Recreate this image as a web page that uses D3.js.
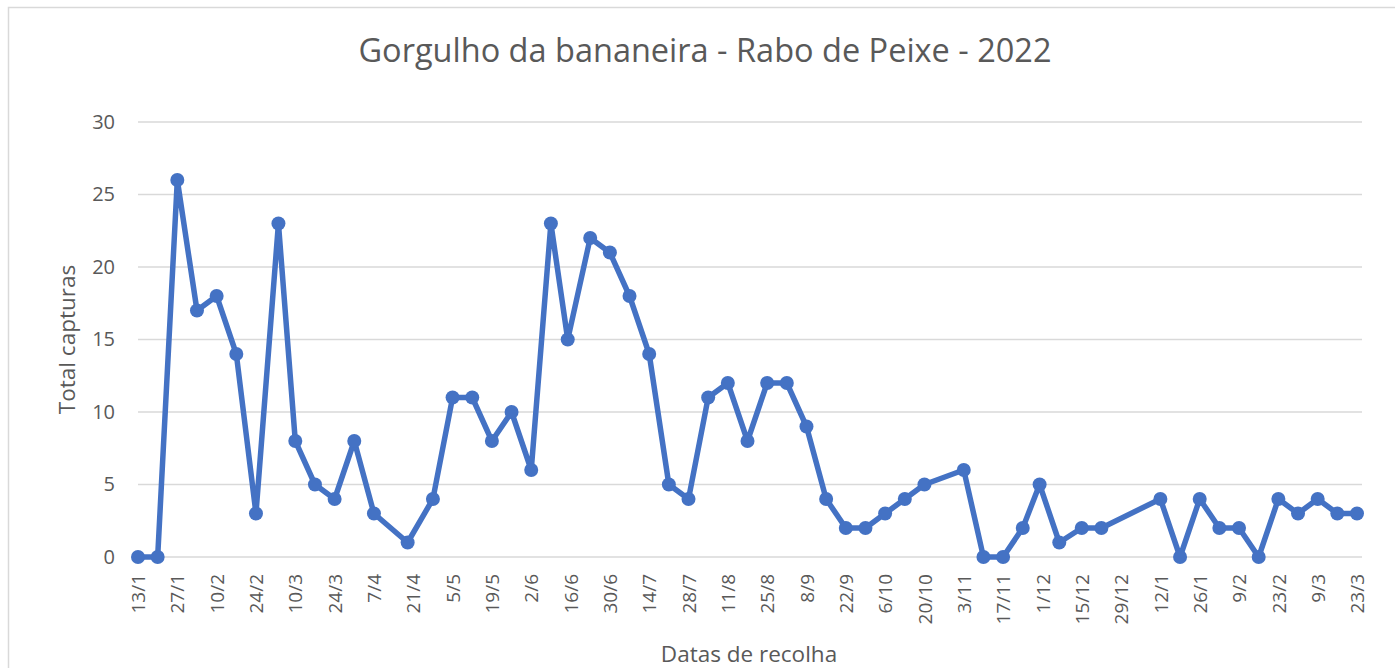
<!DOCTYPE html>
<html>
<head>
<meta charset="utf-8">
<script src="https://cdn.jsdelivr.net/npm/d3@7"></script>
<style>
    body { margin: 0; background: #fff; }
    svg { display: block; }
    text { font-family: "Open Sans", sans-serif; fill: #595959; }
</style>
</head>
<body>
<div id="chart"></div>
<script>
    // Collection dates (d/m, 2022-2023) and total captures
    const dates = [
        "2022-01-13", "2022-01-20", "2022-01-27", "2022-02-03", "2022-02-10", "2022-02-17", "2022-02-24",
        "2022-03-04", "2022-03-10", "2022-03-17", "2022-03-24", "2022-03-31", "2022-04-07", "2022-04-19",
        "2022-04-28", "2022-05-05", "2022-05-12", "2022-05-19", "2022-05-26", "2022-06-02", "2022-06-09",
        "2022-06-15", "2022-06-23", "2022-06-30", "2022-07-07", "2022-07-14", "2022-07-21", "2022-07-28",
        "2022-08-04", "2022-08-11", "2022-08-18", "2022-08-25", "2022-09-01", "2022-09-08", "2022-09-15",
        "2022-09-22", "2022-09-29", "2022-10-06", "2022-10-13", "2022-10-20", "2022-11-03", "2022-11-10",
        "2022-11-17", "2022-11-24", "2022-11-30", "2022-12-07", "2022-12-15", "2022-12-22", "2023-01-12",
        "2023-01-19", "2023-01-26", "2023-02-02", "2023-02-09", "2023-02-16", "2023-02-23", "2023-03-02",
        "2023-03-09", "2023-03-16", "2023-03-23"
    ]
    const capturas = [
        0, 0, 26, 17, 18, 14, 3,
        23, 8, 5, 4, 8, 3, 1,
        4, 11, 11, 8, 10, 6, 23,
        15, 22, 21, 18, 14, 5, 4,
        11, 12, 8, 12, 12, 9, 4,
        2, 2, 3, 4, 5, 6, 0,
        0, 2, 5, 1, 2, 2, 4,
        0, 4, 2, 2, 0, 4, 3,
        4, 3, 3
    ]
    const yTicks = [0, 5, 10, 15, 20, 25, 30]
    const tickStep = 14 // days between axis labels

    const title = "Gorgulho da bananeira - Rabo de Peixe - 2022"
    const yTitle = "Total capturas"
    const xTitle = "Datas de recolha"

    const svgWidth = 1395, svgHeight = 668
    const plot = { left: 138, right: 1357, top: 122, bottom: 557 }

    const parse = d3.utcParse("%Y-%m-%d")
    const data = dates.map((d, i) => ({ date: parse(d), value: capturas[i] }))

    const svg = d3.select("#chart")
        .append("svg")
        .attr("width", svgWidth)
        .attr("height", svgHeight)

    // chart border
    svg.append("rect")
        .attr("x", 8.5)
        .attr("y", 7.5)
        .attr("width", svgWidth + 20)
        .attr("height", svgHeight + 20)
        .attr("fill", "#fff")
        .attr("stroke", "#d9d9d9")
        .attr("stroke-width", 1.5)

    const start = data[0].date, end = data[data.length - 1].date

    const xScale = d3.scaleUtc()
        .domain([start, end])
        .range([plot.left, plot.right])

    const yScale = d3.scaleLinear()
        .domain([0, 30])
        .range([plot.bottom, plot.top])

    // gridlines
    svg.append("g")
        .selectAll("line")
        .data(yTicks)
        .join("line")
        .attr("x1", plot.left)
        .attr("x2", plot.right + 5)
        .attr("y1", d => yScale(d))
        .attr("y2", d => yScale(d))
        .attr("stroke", "#d9d9d9")
        .attr("stroke-width", 1.5)

    // y axis labels
    const yAxis = d3.axisLeft(yScale)
        .tickValues(yTicks)
        .tickSize(0)
        .tickPadding(23)

    svg.append("g")
        .attr("transform", `translate(${plot.left}, 0)`)
        .call(yAxis)
        .call(g => g.select(".domain").remove())
        .call(g => g.selectAll("text")
            .attr("font-size", 20)
            .attr("font-family", null)
            .attr("fill", "#595959"))

    // x axis, date labels every two weeks
    const xTickValues = d3.utcDay.range(start, d3.utcDay.offset(end, 1), tickStep)
    const xAxis = d3.axisBottom(xScale)
        .tickValues(xTickValues)
        .tickFormat(d3.utcFormat("%-d/%-m"))
        .tickSize(0)

    svg.append("g")
        .attr("transform", `translate(0, ${plot.bottom})`)
        .call(xAxis)
        .call(g => g.select(".domain").remove())
        .call(g => g.selectAll("text")
            .attr("font-size", 19)
            .attr("font-family", null)
            .attr("fill", "#595959")
            .attr("transform", "rotate(-90)")
            .attr("text-anchor", "end")
            .attr("x", -17)
            .attr("y", 0)
            .attr("dy", "0.35em"))

    // line and markers
    const line = d3.line()
        .x(d => xScale(d.date))
        .y(d => yScale(d.value))

    svg.append("path")
        .datum(data)
        .attr("d", line)
        .attr("fill", "none")
        .attr("stroke", "#4472C4")
        .attr("stroke-width", 5.5)
        .attr("stroke-linejoin", "round")

    svg.append("g")
        .selectAll("circle")
        .data(data)
        .join("circle")
        .attr("cx", d => xScale(d.date))
        .attr("cy", d => yScale(d.value))
        .attr("r", 7)
        .attr("fill", "#4472C4")

    // titles
    svg.append("text")
        .attr("x", 705)
        .attr("y", 62)
        .attr("text-anchor", "middle")
        .attr("font-size", 32.5)
        .text(title)

    svg.append("text")
        .attr("transform", `translate(75, ${(plot.top + plot.bottom) / 2}) rotate(-90)`)
        .attr("text-anchor", "middle")
        .attr("font-size", 22.5)
        .text(yTitle)

    svg.append("text")
        .attr("x", 749)
        .attr("y", 662)
        .attr("text-anchor", "middle")
        .attr("font-size", 22.5)
        .text(xTitle)
</script>
</body>
</html>
